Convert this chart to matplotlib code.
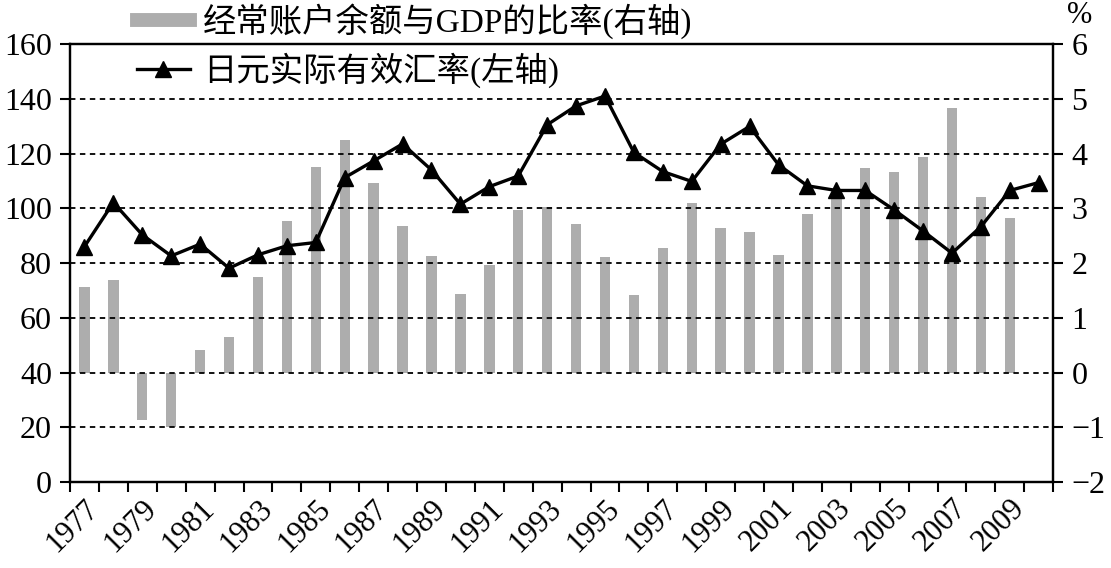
import matplotlib
matplotlib.use("Agg")
import matplotlib.pyplot as plt
from matplotlib.lines import Line2D
from matplotlib.transforms import ScaledTranslation
import numpy as np

plt.rcParams['font.family'] = ['Liberation Serif', 'Noto Sans CJK SC']

# years on the category axis
years = list(range(1977, 2011))

# real effective yen exchange rate (left axis), 1977-2010
yen_reer = [86.0, 102.1, 90.3, 82.6, 86.9, 78.1, 83.0, 86.3, 87.5, 111.2,
            117.3, 123.5, 114.0, 101.5, 107.9, 111.8, 130.5, 137.4, 141.0, 120.4,
            113.4, 109.8, 123.4, 129.9, 115.9, 108.2, 106.5, 106.5, 99.4, 91.7,
            83.6, 93.3, 106.5, 109.4]

# current account balance / GDP, % (right axis), 1977-2009
ca_gdp = [1.57, 1.69, -0.87, -1.0, 0.41, 0.64, 1.74, 2.76, 3.76, 4.25,
          3.46, 2.68, 2.13, 1.44, 1.97, 2.97, 3.03, 2.72, 2.11, 1.42,
          2.27, 3.09, 2.64, 2.57, 2.15, 2.89, 3.24, 3.73, 3.67, 3.93,
          4.83, 3.21, 2.82]

label_bar = "经常账户余额与GDP的比率(右轴)"
label_line = "日元实际有效汇率(左轴)"

fig = plt.figure(figsize=(11.11, 5.68), dpi=100)
ax = fig.add_axes([0.063, 0.1514, 0.885, 0.7711])
ax2 = ax.twinx()
ax.set_zorder(ax2.get_zorder() + 1)
ax.patch.set_visible(False)

idx_bar = np.arange(len(ca_gdp))
idx_line = np.arange(len(yen_reer))

ax2.bar(idx_bar, ca_gdp, width=0.36, color="#adadad", zorder=1)

for g in range(20, 160, 20):
    ax.axhline(g, color="black", lw=1.3, ls=(0, (3, 2.5)), zorder=1)

ax.plot(idx_line, yen_reer, color="black", lw=2.4, marker="^",
        markersize=12, zorder=3)

ax.set_xlim(-0.5, len(years) - 0.5)
ax.set_ylim(0, 160)
ax.set_yticks(range(0, 161, 20))
ax2.set_ylim(-2, 6)
ax2.set_yticks(range(-2, 7))

# tick marks at category boundaries, labels at centres
ax.set_xticks(np.arange(-0.5, len(years), 1.0))
ax.set_xticklabels([])
ax.set_xticks(np.arange(0, len(years), 2), minor=True)
ax.set_xticklabels([str(y) for y in years[::2]], minor=True,
                   rotation=45, ha="right", va="center",
                   rotation_mode="anchor")
ax.tick_params(axis="x", which="minor", length=0, pad=16, labelsize=22)
ax.tick_params(axis="x", which="major", length=7, width=1.5, direction="out")
ax.tick_params(axis="y", length=7, width=1.5, labelsize=23, pad=6)
ax2.tick_params(axis="y", length=7, width=1.5, labelsize=23, pad=6)

# nudge the rotated year labels a little to the right
shift = ScaledTranslation(0.1, 0, fig.dpi_scale_trans)
for lbl in ax.get_xticklabels(minor=True):
    lbl.set_transform(lbl.get_transform() + shift)

for a in (ax, ax2):
    for s in a.spines.values():
        s.set_linewidth(1.6)

fig.text(0.972, 0.972, "%", fontsize=22, ha="center", va="center")

handles = [Line2D([], [], color="#adadad", lw=10),
           Line2D([], [], color="black", lw=2.4, marker="^", markersize=12)]
fig.legend(handles, [label_bar, label_line], loc="upper left",
           bbox_to_anchor=(0.096, 1.048), frameon=False, fontsize=24,
           handlelength=1.6, labelspacing=0.42, handletextpad=0.4)

fig.savefig("out.png", dpi=100)
